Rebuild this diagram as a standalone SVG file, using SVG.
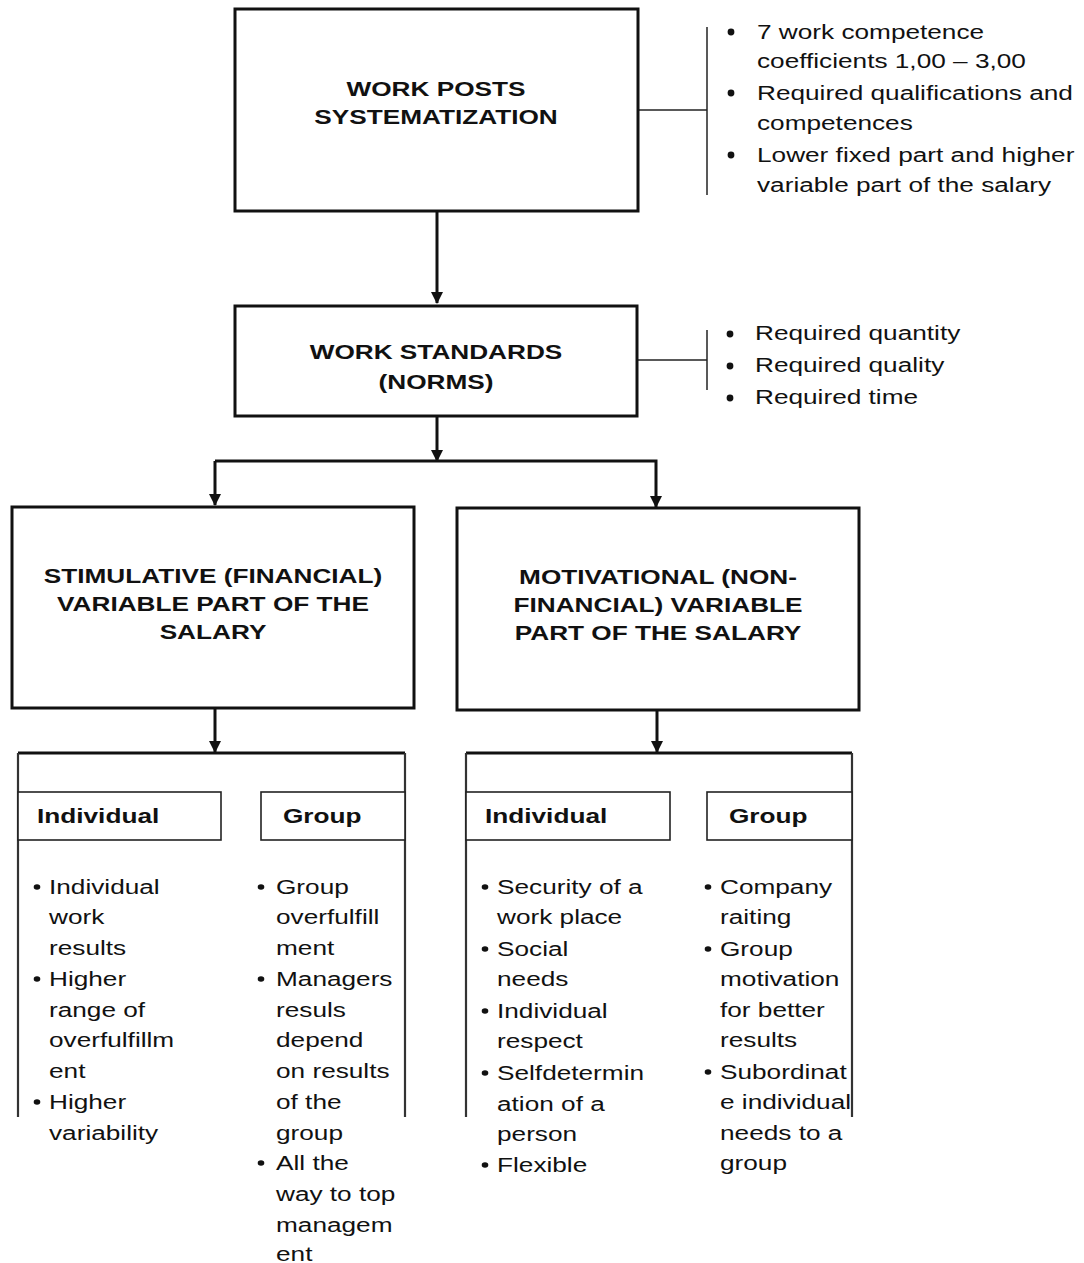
<svg xmlns="http://www.w3.org/2000/svg" width="1084" height="1263" viewBox="0 0 1084 1263">
<defs>
<marker id="ah" markerWidth="12" markerHeight="12" refX="11" refY="6" orient="auto" markerUnits="userSpaceOnUse">
<path d="M0,0 L12,6 L0,12 Z" fill="#111"/>
</marker>
<style>
.box{fill:#fff;stroke:#111;stroke-width:3}
.sub{fill:#fff;stroke:#222;stroke-width:1.6}
.ln{fill:none;stroke:#111;stroke-width:3}
.br{fill:none;stroke:#222;stroke-width:1.5}
.side{fill:none;stroke:#333;stroke-width:2.2}
.t{font-family:"Liberation Sans",Arial,sans-serif;font-size:20px;fill:#111}
.b{font-weight:bold}
.c{text-anchor:middle}
.dot{fill:#111}
</style>
</defs>
<rect width="1084" height="1263" fill="#fff"/>

<g id="connectors">
<line class="ln" x1="437" y1="211" x2="437" y2="303" marker-end="url(#ah)"/>
<line class="ln" x1="437" y1="416" x2="437" y2="461" marker-end="url(#ah)"/>
<polyline class="ln" points="215,461 656,461 656,507" marker-end="url(#ah)"/>
<line class="ln" x1="215" y1="461" x2="215" y2="505" marker-end="url(#ah)"/>
<line class="ln" x1="215" y1="708" x2="215" y2="752" marker-end="url(#ah)"/>
<line class="ln" x1="657" y1="710" x2="657" y2="752" marker-end="url(#ah)"/>
<line class="br" x1="638" y1="110" x2="707" y2="110"/>
<line class="br" x1="707" y1="27" x2="707" y2="195"/>
<line class="br" x1="637" y1="360" x2="707" y2="360"/>
<line class="br" x1="707" y1="330" x2="707" y2="390"/>
</g>

<g id="n-systematization">
<rect class="box" x="235" y="9" width="403" height="202"/>
<text class="t b c" transform="translate(436,96) scale(1.31,1)">WORK POSTS</text>
<text class="t b c" transform="translate(436,124) scale(1.31,1)">SYSTEMATIZATION</text>
</g>

<g id="n-systematization-notes">
<circle class="dot" cx="731" cy="32" r="3.4"/>
<circle class="dot" cx="731" cy="93" r="3.4"/>
<circle class="dot" cx="731" cy="155" r="3.4"/>
<text class="t" transform="translate(757,39) scale(1.31,1)">7 work competence</text>
<text class="t" transform="translate(757,68) scale(1.31,1)">coefficients 1,00 – 3,00</text>
<text class="t" transform="translate(757,100) scale(1.31,1)">Required qualifications and</text>
<text class="t" transform="translate(757,130) scale(1.31,1)">competences</text>
<text class="t" transform="translate(757,162) scale(1.31,1)">Lower fixed part and higher</text>
<text class="t" transform="translate(757,192) scale(1.31,1)">variable part of the salary</text>
</g>

<g id="n-standards">
<rect class="box" x="235" y="306" width="402" height="110"/>
<text class="t b c" transform="translate(436,359) scale(1.31,1)">WORK STANDARDS</text>
<text class="t b c" transform="translate(436,389) scale(1.31,1)">(NORMS)</text>
</g>

<g id="n-standards-notes">
<circle class="dot" cx="730" cy="334" r="3.4"/>
<circle class="dot" cx="730" cy="366" r="3.4"/>
<circle class="dot" cx="730" cy="398" r="3.4"/>
<text class="t" transform="translate(755,340) scale(1.31,1)">Required quantity</text>
<text class="t" transform="translate(755,372) scale(1.31,1)">Required quality</text>
<text class="t" transform="translate(755,404) scale(1.31,1)">Required time</text>
</g>

<g id="n-stimulative">
<rect class="box" x="12" y="507" width="402" height="201"/>
<text class="t b c" transform="translate(213,583) scale(1.31,1)">STIMULATIVE (FINANCIAL)</text>
<text class="t b c" transform="translate(213,611) scale(1.31,1)">VARIABLE PART OF THE</text>
<text class="t b c" transform="translate(213,639) scale(1.31,1)">SALARY</text>
</g>

<g id="n-motivational">
<rect class="box" x="457" y="508" width="402" height="202"/>
<text class="t b c" transform="translate(658,584) scale(1.31,1)">MOTIVATIONAL (NON-</text>
<text class="t b c" transform="translate(658,612) scale(1.31,1)">FINANCIAL) VARIABLE</text>
<text class="t b c" transform="translate(658,640) scale(1.31,1)">PART OF THE SALARY</text>
</g>

<g id="n-stimulative-split">
<line class="ln" x1="18" y1="753" x2="405" y2="753"/>
<line class="side" x1="18" y1="753" x2="18" y2="1117"/>
<line class="side" x1="405" y1="753" x2="405" y2="1117"/>
</g>

<g id="n-stim-individual">
<rect class="sub" x="18" y="792" width="203" height="48"/>
<text class="t b" transform="translate(37,823) scale(1.31,1)">Individual</text>
<ellipse class="dot" cx="37" cy="887" rx="3.3" ry="2.7"/>
<ellipse class="dot" cx="37" cy="979" rx="3.3" ry="2.7"/>
<ellipse class="dot" cx="37" cy="1102" rx="3.3" ry="2.7"/>
<text class="t" transform="translate(49,894) scale(1.31,1)">Individual</text>
<text class="t" transform="translate(49,924) scale(1.31,1)">work</text>
<text class="t" transform="translate(49,955) scale(1.31,1)">results</text>
<text class="t" transform="translate(49,986) scale(1.31,1)">Higher</text>
<text class="t" transform="translate(49,1017) scale(1.31,1)">range of</text>
<text class="t" transform="translate(49,1047) scale(1.31,1)">overfulfillm</text>
<text class="t" transform="translate(49,1078) scale(1.31,1)">ent</text>
<text class="t" transform="translate(49,1109) scale(1.31,1)">Higher</text>
<text class="t" transform="translate(49,1140) scale(1.31,1)">variability</text>
</g>

<g id="n-stim-group">
<rect class="sub" x="261" y="792" width="144" height="48"/>
<text class="t b" transform="translate(283,823) scale(1.31,1)">Group</text>
<ellipse class="dot" cx="261" cy="887" rx="3.3" ry="2.7"/>
<ellipse class="dot" cx="261" cy="979" rx="3.3" ry="2.7"/>
<ellipse class="dot" cx="261" cy="1163" rx="3.3" ry="2.7"/>
<text class="t" transform="translate(276,894) scale(1.31,1)">Group</text>
<text class="t" transform="translate(276,924) scale(1.31,1)">overfulfill</text>
<text class="t" transform="translate(276,955) scale(1.31,1)">ment</text>
<text class="t" transform="translate(276,986) scale(1.31,1)">Managers</text>
<text class="t" transform="translate(276,1017) scale(1.31,1)">resuls</text>
<text class="t" transform="translate(276,1047) scale(1.31,1)">depend</text>
<text class="t" transform="translate(276,1078) scale(1.31,1)">on results</text>
<text class="t" transform="translate(276,1109) scale(1.31,1)">of the</text>
<text class="t" transform="translate(276,1140) scale(1.31,1)">group</text>
<text class="t" transform="translate(276,1170) scale(1.31,1)">All the</text>
<text class="t" transform="translate(276,1201) scale(1.31,1)">way to top</text>
<text class="t" transform="translate(276,1232) scale(1.31,1)">managem</text>
<text class="t" transform="translate(276,1261) scale(1.31,1)">ent</text>
</g>

<g id="n-motivational-split">
<line class="ln" x1="466" y1="753" x2="852" y2="753"/>
<line class="side" x1="466" y1="753" x2="466" y2="1117"/>
<line class="side" x1="852" y1="753" x2="852" y2="1117"/>
</g>

<g id="n-mot-individual">
<rect class="sub" x="466" y="792" width="204" height="48"/>
<text class="t b" transform="translate(485,823) scale(1.31,1)">Individual</text>
<ellipse class="dot" cx="485" cy="887" rx="3.3" ry="2.7"/>
<ellipse class="dot" cx="485" cy="949" rx="3.3" ry="2.7"/>
<ellipse class="dot" cx="485" cy="1011" rx="3.3" ry="2.7"/>
<ellipse class="dot" cx="485" cy="1073" rx="3.3" ry="2.7"/>
<ellipse class="dot" cx="485" cy="1165" rx="3.3" ry="2.7"/>
<text class="t" transform="translate(497,894) scale(1.31,1)">Security of a</text>
<text class="t" transform="translate(497,924) scale(1.31,1)">work place</text>
<text class="t" transform="translate(497,956) scale(1.31,1)">Social</text>
<text class="t" transform="translate(497,986) scale(1.31,1)">needs</text>
<text class="t" transform="translate(497,1018) scale(1.31,1)">Individual</text>
<text class="t" transform="translate(497,1048) scale(1.31,1)">respect</text>
<text class="t" transform="translate(497,1080) scale(1.31,1)">Selfdetermin</text>
<text class="t" transform="translate(497,1111) scale(1.31,1)">ation of a</text>
<text class="t" transform="translate(497,1141) scale(1.31,1)">person</text>
<text class="t" transform="translate(497,1172) scale(1.31,1)">Flexible</text>
</g>

<g id="n-mot-group">
<rect class="sub" x="707" y="792" width="145" height="48"/>
<text class="t b" transform="translate(729,823) scale(1.31,1)">Group</text>
<ellipse class="dot" cx="708" cy="887" rx="3.3" ry="2.7"/>
<ellipse class="dot" cx="708" cy="949" rx="3.3" ry="2.7"/>
<ellipse class="dot" cx="708" cy="1072" rx="3.3" ry="2.7"/>
<text class="t" transform="translate(720,894) scale(1.31,1)">Company</text>
<text class="t" transform="translate(720,924) scale(1.31,1)">raiting</text>
<text class="t" transform="translate(720,956) scale(1.31,1)">Group</text>
<text class="t" transform="translate(720,986) scale(1.31,1)">motivation</text>
<text class="t" transform="translate(720,1017) scale(1.31,1)">for better</text>
<text class="t" transform="translate(720,1047) scale(1.31,1)">results</text>
<text class="t" transform="translate(720,1079) scale(1.31,1)">Subordinat</text>
<text class="t" transform="translate(720,1109) scale(1.31,1)">e individual</text>
<text class="t" transform="translate(720,1140) scale(1.31,1)">needs to a</text>
<text class="t" transform="translate(720,1170) scale(1.31,1)">group</text>
</g>
</svg>
